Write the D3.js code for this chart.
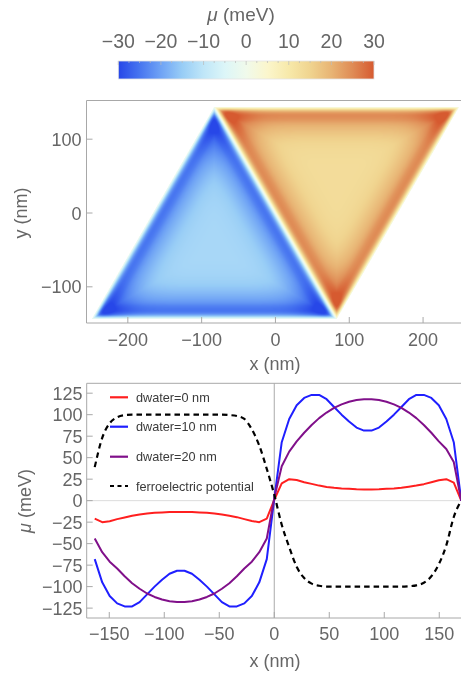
<!DOCTYPE html>
<html>
<head>
<meta charset="utf-8">
<script src="https://cdn.jsdelivr.net/npm/d3@7"></script>
<style>
  body { margin: 0; background: #fff; }
  #wrap { position: relative; width: 461px; height: 675px; overflow: hidden; background: #fff; }
  canvas, svg { position: absolute; left: 0; top: 0; }
  canvas { filter: blur(0.5px); }
  text { font-family: "Liberation Sans", Arial, Helvetica, sans-serif; fill: #666; }
</style>
</head>
<body>
<div id="wrap">
  <canvas id="map" width="461" height="675"></canvas>
  <svg id="chart" width="461" height="675"></svg>
</div>
<script>
// ---- colour bar (meV) ----
const cbStops  = [-30, -25, -20, -15, -10, -5, 0, 5, 10, 15, 20, 25, 30];
const cbColors = ["#2747e8", "#4775f0", "#6fa3f5", "#98cdf6", "#bfe6f8", "#dcf6f8",
                  "#f0faeb", "#fbf6cc", "#f7e9aa", "#f0d48f", "#e8b474", "#df8b55", "#d65a30"];
const cbTicks  = [-30, -20, -10, 0, 10, 20, 30];

// ---- 2D map: two equilateral triangular domains (nm) ----
const triangleSide = 332;
const mapXTicks = [-200, -100, 0, 100, 200];
const mapYTicks = [-100, 0, 100];
// |mu| versus distance from the nearest domain edge (nm -> meV)
const edgeDist = [0, 1.5, 3, 4.5, 6, 8, 10, 12, 15, 18, 22, 26, 30, 35, 40, 45, 50, 55, 60, 70, 80, 100];
const edgeMu   = [0, 6, 12, 16.5, 20, 23, 24.5, 25, 24.5, 23.5, 21.5, 20, 18.8, 17.5, 16.3, 15.3, 14.5, 14, 13.6, 13.2, 13, 13];

// ---- line cut along y = 0 ----
const xNm = [-163.2, -156.4, -149.6, -142.8, -136, -129.2, -122.4, -115.6, -108.8, -102,
             -95.2, -88.4, -81.6, -74.8, -68, -61.2, -54.4, -47.6, -40.8, -34,
             -27.2, -20.4, -13.6, -6.8, 0, 6.8, 13.6, 20.4, 27.2, 34,
             40.8, 47.6, 54.4, 61.2, 68, 74.8, 81.6, 88.4, 95.2, 102,
             108.8, 115.6, 122.4, 129.2, 136, 142.8, 149.6, 156.4, 163.2, 170];
const muD0  = [-21, -25, -24, -21.5, -19.5, -17.5, -16, -15, -14.2, -13.7,
               -13.3, -13.1, -13.1, -13.3, -13.7, -14.2, -15, -16.2, -17.5, -19.2,
               -21.5, -23.7, -25, -21, 1, 20, 25, 24, 21.5, 19.5,
               17.5, 16, 15, 14.2, 13.7, 13.3, 13.1, 13.1, 13.3, 13.7,
               14.2, 15, 16.2, 17.5, 19.2, 21.5, 23.7, 25, 21, 0];
const muD10 = [-68, -95, -111, -119.5, -123, -123, -118, -109, -100, -92,
               -85, -81.5, -81.5, -85, -92, -100, -109, -118, -123, -123,
               -119.5, -111, -95, -68, 2, 68, 95, 111, 119.5, 123,
               123, 118, 109, 100, 92, 85, 81.5, 81.5, 85, 92,
               100, 109, 118, 123, 123, 119.5, 111, 95, 68, 0];
const muD20 = [-44, -60, -71, -79, -88, -96, -102.5, -108, -112, -115,
               -117, -118, -118, -117, -115, -112, -108, -102.5, -96, -88,
               -79, -71, -60, -44, 3, 40, 57, 69, 79, 88,
               96, 102.5, 108, 112, 115, 117, 118, 118, 117, 115,
               112, 108, 102.5, 96, 88, 79, 69, 60, 45, 0];
const ferro = [39, 73, 90, 97, 99.5, 100, 100, 100, 100, 100,
               100, 100, 100, 100, 100, 100, 100, 100, 99.5, 98.5,
               95, 83, 64, 37, 7, -28, -54, -77, -90, -96.5,
               -99, -100, -100, -100, -100, -100, -100, -100, -100, -100,
               -100, -100, -99.5, -98.5, -95.5, -88, -74, -52, -19, 0];
const cutXTicks = [-150, -100, -50, 0, 50, 100, 150];
const cutYTicks = [-125, -100, -75, -50, -25, 0, 25, 50, 75, 100, 125];
const legendItems = [
  { label: "dwater=0 nm",  color: "#ff1f1f", dash: null },
  { label: "dwater=10 nm", color: "#1f1fff", dash: null },
  { label: "dwater=20 nm", color: "#80108a", dash: null },
  { label: "ferroelectric potential", color: "#000", dash: "4,3.5" }
];

const svg = d3.select("#chart");
const defs = svg.append("defs");
const frameColor = "#a8a8a8";
const fmt = d => d < 0 ? "\u2212" + Math.abs(d) : String(d);

// ================= colour bar =================
const color = d3.scaleLinear().domain(cbStops).range(cbColors)
  .interpolate(d3.interpolateRgb).clamp(true);
const cbX = d3.scaleLinear().domain([-30, 30]).range([118.3, 374]);

const grad = defs.append("linearGradient").attr("id", "cbGrad");
cbStops.forEach((s, i) => grad.append("stop")
  .attr("offset", (cbX(s) - cbX(-30)) / (cbX(30) - cbX(-30)))
  .attr("stop-color", cbColors[i]));
svg.append("rect").attr("x", cbX(-30)).attr("y", 61)
  .attr("width", cbX(30) - cbX(-30)).attr("height", 18)
  .attr("fill", "url(#cbGrad)").attr("stroke", "#e4e4e4").attr("stroke-width", 0.8);
svg.append("g").selectAll("line").data(d3.range(-30, 30.01, 2.5)).join("line")
  .attr("x1", d => cbX(d)).attr("x2", d => cbX(d))
  .attr("y1", 61).attr("y2", d => d % 10 === 0 ? 65 : 63)
  .attr("stroke", "#bbb").attr("stroke-width", 0.7);
svg.append("g").selectAll("text").data(cbTicks).join("text")
  .attr("x", d => cbX(d)).attr("y", 48).attr("text-anchor", "middle")
  .attr("font-size", 19.5).text(fmt);
const cbTitle = svg.append("text").attr("x", 241).attr("y", 21)
  .attr("text-anchor", "middle").attr("font-size", 19);
cbTitle.append("tspan").attr("font-style", "italic").text("\u03bc");
cbTitle.append("tspan").text(" (meV)");

// ================= 2D map =================
const mapX = d3.scaleLinear().domain([-256, 256]).range([86.5, 464.4]);
const mapY = d3.scaleLinear().domain([-149, 152.4]).range([323, 100.5]);
const profile = d3.scaleLinear().domain(edgeDist).range(edgeMu).clamp(true);

const L = triangleSide, H = L * Math.sqrt(3) / 2, a0 = -3 * L / 4;
const s3 = Math.sqrt(3) / 2;
// signed distances to the three edges of each domain (positive inside)
function blueDist(x, y) {
  return [
    (x - a0) * s3 - (y + H / 2) * 0.5,
    -(x - (a0 + L)) * s3 - (y + H / 2) * 0.5,
    y + H / 2
  ];
}
function orangeDist(x, y) {
  return [
    (x - (a0 + L)) * s3 + (y + H / 2) * 0.5,
    -(x - (a0 + L)) * s3 + (y + H / 2) * 0.5,
    H / 2 - y
  ];
}
function muAt(x, y) {
  let d = blueDist(x, y), sign = -1;
  if (Math.min(...d) < 0) { d = orangeDist(x, y); sign = 1; }
  if (Math.min(...d) < 0) return null;
  d.sort((p, q) => p - q);
  const base = profile(d[0]);
  const corner = 0.6 * Math.max(0, profile(d[1]) - 13) * Math.min(1, d[0] / 6);
  return sign * (base + corner);
}

const ctx = document.getElementById("map").getContext("2d");
const px0 = Math.floor(mapX.range()[0]), px1 = 461;
const py0 = Math.floor(mapY.range()[1]), py1 = Math.ceil(mapY.range()[0]);
const img = ctx.createImageData(px1 - px0, py1 - py0);
for (let j = 0; j < py1 - py0; j++) {
  for (let i = 0; i < px1 - px0; i++) {
    const k = (j * (px1 - px0) + i) * 4;
    let r = 0, g = 0, b = 0;
    // 2x2 supersampling per pixel
    for (let sy = 0; sy < 2; sy++) for (let sx = 0; sx < 2; sx++) {
      const v = muAt(mapX.invert(px0 + i + 0.25 + 0.5 * sx), mapY.invert(py0 + j + 0.25 + 0.5 * sy));
      if (v === null) { r += 255; g += 255; b += 255; }
      else { const c = d3.rgb(color(v)); r += c.r; g += c.g; b += c.b; }
    }
    img.data[k] = r / 4; img.data[k + 1] = g / 4; img.data[k + 2] = b / 4; img.data[k + 3] = 255;
  }
}
ctx.putImageData(img, px0, py0);

const gMap = svg.append("g");
gMap.append("path")
  .attr("d", `M461,${mapY(152.4)}H${mapX(-256)}V${mapY(-149)}H461`)
  .attr("fill", "none").attr("stroke", frameColor).attr("stroke-width", 1);
gMap.selectAll(".xt").data(mapXTicks).join("line")
  .attr("x1", d => mapX(d)).attr("x2", d => mapX(d))
  .attr("y1", mapY(-149)).attr("y2", mapY(-149) - 6)
  .attr("stroke", frameColor);
gMap.selectAll(".yt").data(mapYTicks).join("line")
  .attr("x1", mapX(-256)).attr("x2", mapX(-256) + 6)
  .attr("y1", d => mapY(d)).attr("y2", d => mapY(d))
  .attr("stroke", frameColor);
gMap.selectAll(".xl").data(mapXTicks).join("text")
  .attr("x", d => mapX(d)).attr("y", 346).attr("text-anchor", "middle")
  .attr("font-size", 18).text(fmt);
gMap.selectAll(".yl").data(mapYTicks).join("text")
  .attr("x", 81.5).attr("y", d => mapY(d) + 6.5).attr("text-anchor", "end")
  .attr("font-size", 18).text(fmt);
gMap.append("text").attr("x", 275).attr("y", 370).attr("text-anchor", "middle")
  .attr("font-size", 18).text("x (nm)");
gMap.append("text").attr("transform", "translate(27,213) rotate(-90)")
  .attr("text-anchor", "middle").attr("font-size", 18).text("y (nm)");

// ================= line cut =================
const cx = d3.scaleLinear().domain([-170.5, 170.5]).range([86.7, 461.8]);
const cy = d3.scaleLinear().domain([-136.5, 136.5]).range([618, 383.3]);
const gCut = svg.append("g");
defs.append("clipPath").attr("id", "cutClip").append("rect")
  .attr("x", cx(-170.5)).attr("y", cy(136.5))
  .attr("width", cx(170.5) - cx(-170.5)).attr("height", cy(-136.5) - cy(136.5));

gCut.append("line").attr("x1", cx(-170.5)).attr("x2", 461)
  .attr("y1", cy(0)).attr("y2", cy(0)).attr("stroke", "#dcdcdc").attr("stroke-width", 1);
gCut.append("line").attr("x1", cx(0)).attr("x2", cx(0))
  .attr("y1", cy(136.5)).attr("y2", cy(-136.5)).attr("stroke", "#a0a0a0").attr("stroke-width", 0.9);

gCut.append("path")
  .attr("d", `M461,${cy(136.5)}H${cx(-170.5)}V${cy(-136.5)}H461`)
  .attr("fill", "none").attr("stroke", frameColor).attr("stroke-width", 1);
gCut.selectAll(".xt").data(cutXTicks).join("line")
  .attr("x1", d => cx(d)).attr("x2", d => cx(d))
  .attr("y1", cy(-136.5)).attr("y2", cy(-136.5) - 6).attr("stroke", frameColor);
gCut.selectAll(".yt").data(cutYTicks).join("line")
  .attr("x1", cx(-170.5)).attr("x2", cx(-170.5) + 6)
  .attr("y1", d => cy(d)).attr("y2", d => cy(d)).attr("stroke", frameColor);
gCut.selectAll(".xl").data(cutXTicks).join("text")
  .attr("x", d => cx(d)).attr("y", 640).attr("text-anchor", "middle")
  .attr("font-size", 18).text(fmt);
gCut.selectAll(".yl").data(cutYTicks).join("text")
  .attr("x", 82.5).attr("y", d => cy(d) + 6.5).attr("text-anchor", "end")
  .attr("font-size", 18).text(fmt);
gCut.append("text").attr("x", 275).attr("y", 667).attr("text-anchor", "middle")
  .attr("font-size", 18).text("x (nm)");
const muLabel = gCut.append("text").attr("transform", "translate(31,501) rotate(-90)")
  .attr("text-anchor", "middle").attr("font-size", 18);
muLabel.append("tspan").attr("font-style", "italic").text("\u03bc");
muLabel.append("tspan").text(" (meV)");

const series = [muD0, muD10, muD20, ferro];
const gLines = gCut.append("g").attr("clip-path", "url(#cutClip)");
series.forEach((vals, si) => {
  const item = legendItems[si];
  const line = d3.line().x((d, i) => cx(xNm[i])).y(d => cy(d))
    .curve(item.dash ? d3.curveMonotoneX : d3.curveLinear);
  gLines.append("path").datum(vals).attr("d", line)
    .attr("fill", "none").attr("stroke", item.color)
    .attr("stroke-width", item.dash ? 2.2 : 2)
    .attr("stroke-dasharray", item.dash ? "5.5,4" : null)
    .attr("stroke-linejoin", "round");
});

// legend
const legendRows = [397.3, 426.7, 456.7, 486];
const gLeg = gCut.append("g");
legendItems.forEach((it, i) => {
  gLeg.append("line").attr("x1", 110).attr("x2", 128)
    .attr("y1", legendRows[i]).attr("y2", legendRows[i])
    .attr("stroke", it.color).attr("stroke-width", 2.2)
    .attr("stroke-dasharray", it.dash);
  gLeg.append("text").attr("x", 136).attr("y", legendRows[i] + 4.6)
    .attr("font-size", 12.7).style("fill", "#3a3a3a").text(it.label);
});
</script>
</body>
</html>
